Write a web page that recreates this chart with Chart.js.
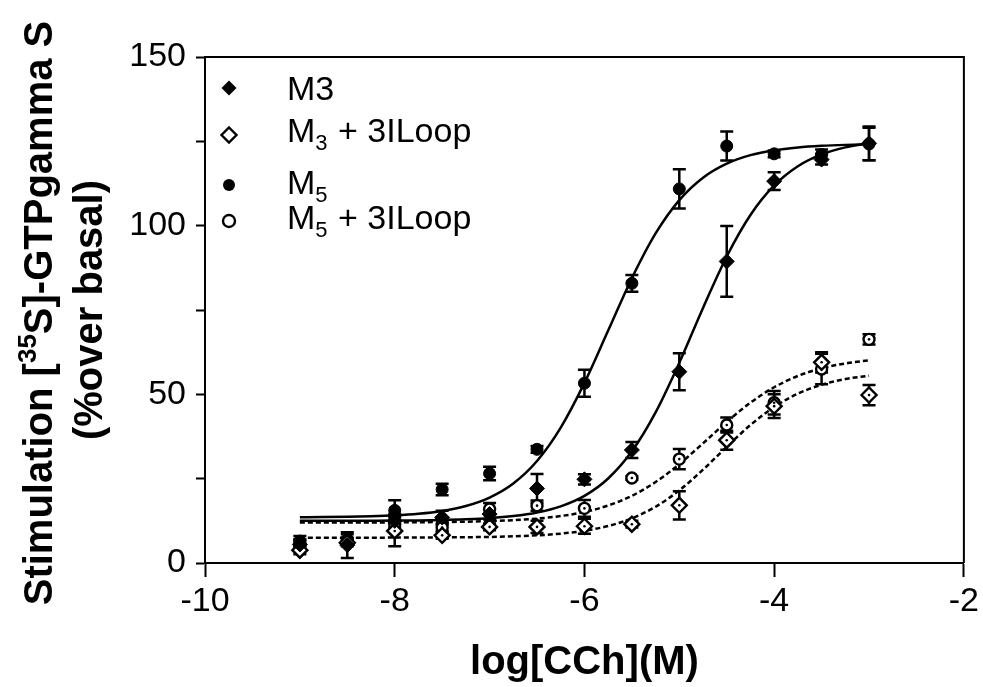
<!DOCTYPE html>
<html><head><meta charset="utf-8">
<script src="https://cdn.jsdelivr.net/npm/chart.js@4/dist/chart.umd.min.js"></script>
<style>html,body{margin:0;padding:0;background:#fff}#wrap{width:983px;height:687px;position:relative}</style>
</head><body><div id="wrap"><canvas id="c" width="983" height="687"></canvas></div>
<script>
// ---- data ----
const logConc = [-9, -8.5, -8, -7.5, -7, -6.5, -6, -5.5, -5, -4.5, -4, -3.5, -3];
const m3 = [5.5, 5.3, 12.5, 13.5, 14.5, 22.1, 24.8, 33.5, 56.7, 89.4, 113.2, 119.6, 124.4];
const m3Err = [1.5, 3.8, 2.0, 2.0, 1.5, 4.3, 1.5, 2.4, 5.5, 10.5, 2.6, 1.5, 5.0];
const m3Loop = [3.8, 6.0, 9.5, 8.2, 10.7, 10.7, 10.9, 11.5, 17.1, 36.4, 46.5, 59.5, 49.8];
const m3LoopErr = [1.2, 1.0, 4.5, 1.0, 1.0, 1.8, 2.2, 1.0, 4.2, 2.8, 3.5, 3.0, 3.0];
const m5 = [6.5, 7.0, 15.6, 21.8, 26.5, 33.7, 53.3, 82.9, 110.9, 123.6, 121.3, 121.1, 124.2];
const m5Err = [1.5, 1.5, 3.0, 1.7, 2.0, 1.0, 4.0, 2.5, 5.8, 4.3, 1.0, 1.5, 4.8];
const m5Loop = [6.0, 6.5, 11.5, 10.5, 16.0, 17.0, 16.2, 25.2, 30.8, 40.9, 47.5, 57.5, 66.3];
const m5LoopErr = [1.0, 1.0, 2.0, 1.0, 1.8, 1.5, 2.5, 0.5, 3.0, 2.2, 3.5, 4.5, 1.5];

// fitted curves
const fitX = [-9, -8.75, -8.5, -8.25, -8, -7.75, -7.5, -7.25, -7, -6.75, -6.5, -6.25, -6, -5.75, -5.5, -5.25, -5, -4.75, -4.5, -4.25, -4, -3.75, -3.5, -3.25, -3];
const m5Fit = [13.56, 13.61, 13.70, 13.85, 14.12, 14.60, 15.44, 16.90, 19.40, 23.57, 30.23, 40.13, 53.39, 68.90, 84.42, 97.69, 107.57, 114.23, 118.40, 120.90, 122.36, 123.20, 123.68, 123.95, 124.10];
const m3Fit = [12.5, 12.5, 12.52, 12.54, 12.57, 12.63, 12.74, 12.94, 13.28, 13.9, 14.96, 16.8, 19.9, 25.05, 33.1, 44.65, 59.36, 75.62, 90.86, 103.15, 111.91, 117.63, 121.13, 123.21, 124.42];
const m5LoopFit = [12.01, 12.01, 12.02, 12.03, 12.05, 12.09, 12.15, 12.25, 12.42, 12.70, 13.16, 13.92, 15.13, 17.05, 19.92, 24.00, 29.30, 35.47, 41.81, 47.52, 52.10, 55.44, 57.70, 59.16, 60.08];
const m3LoopFit = [7.50, 7.50, 7.51, 7.51, 7.53, 7.54, 7.58, 7.64, 7.73, 7.91, 8.20, 8.70, 9.56, 10.97, 13.23, 16.68, 21.53, 27.66, 34.44, 40.90, 46.25, 50.19, 52.84, 54.52, 55.54];

const seriesNames = ["M3", "M\u2083 + 3ILoop", "M\u2085", "M\u2085 + 3ILoop"];
const yTitleMain = ["Stimulation [", "35", "S]-GTPgamma S"];
const yTitleSub = "(%over basal)";
const xTitle = "log[CCh](M)";
const xMin = -10, xMax = -2, xStep = 2;
const yMin = 0, yMax = 150, yStep = 25, yLabelStep = 50;

// ---- build ----
const FONT = "'Liberation Sans', Arial, Helvetica, sans-serif";
const pts = (ys) => logConc.map((x, i) => ({x, y: ys[i]}));
const fit = (ys) => fitX.map((x, i) => ({x, y: ys[i]}));

const markerSets = [
  {label: seriesNames[0], data: pts(m3), errors: m3Err, pointStyle: 'rectRot', pointRadius: 7.5, backgroundColor: '#000', borderColor: '#000', borderWidth: 1, open: false},
  {label: seriesNames[1], data: pts(m3Loop), errors: m3LoopErr, pointStyle: 'rectRot', pointRadius: 7.5, backgroundColor: '#fff', borderColor: '#000', borderWidth: 2.4, open: true},
  {label: seriesNames[2], data: pts(m5), errors: m5Err, pointStyle: 'circle', pointRadius: 6, backgroundColor: '#000', borderColor: '#000', borderWidth: 1, open: false},
  {label: seriesNames[3], data: pts(m5Loop), errors: m5LoopErr, pointStyle: 'circle', pointRadius: 5.5, backgroundColor: '#fff', borderColor: '#000', borderWidth: 2.4, open: true}
].map(d => Object.assign(d, {showLine: false, pointHoverRadius: d.pointRadius}));

const lineSets = [
  {data: fit(m3Fit), borderDash: []},
  {data: fit(m3LoopFit), borderDash: [5, 3]},
  {data: fit(m5Fit), borderDash: []},
  {data: fit(m5LoopFit), borderDash: [5, 3]}
].map(d => Object.assign(d, {label: '', showLine: true, pointRadius: 0, pointHoverRadius: 0, borderColor: '#000', borderWidth: 2.5, cubicInterpolationMode: 'monotone', fill: false}));

function drawMarker(ctx, style, r, x, y, open) {
  ctx.save();
  ctx.beginPath();
  if (style === 'circle') ctx.arc(x, y, r, 0, Math.PI * 2);
  else { ctx.moveTo(x, y - r); ctx.lineTo(x + r, y); ctx.lineTo(x, y + r); ctx.lineTo(x - r, y); ctx.closePath(); }
  ctx.fillStyle = open ? '#fff' : '#000';
  ctx.fill();
  ctx.lineWidth = 2.4; ctx.strokeStyle = '#000';
  if (open) ctx.stroke();
  ctx.restore();
}

function drawSubText(ctx, text, x, y, size) {
  const subMap = {'\u2083': '3', '\u2085': '5'};
  let cx = x;
  for (const ch of text) {
    if (subMap[ch]) {
      ctx.font = `${Math.round(size * 0.66)}px ${FONT}`;
      ctx.fillText(subMap[ch], cx, y + 8);
      cx += ctx.measureText(subMap[ch]).width + 1;
    } else {
      ctx.font = `${size}px ${FONT}`;
      ctx.fillText(ch, cx, y);
      cx += ctx.measureText(ch).width;
    }
  }
}

const decor = {
  id: 'decor',
  beforeDatasetsDraw(chart) {
    const {ctx, chartArea: a, scales: {x, y}} = chart;
    ctx.save();
    ctx.strokeStyle = '#000'; ctx.lineWidth = 2;
    ctx.beginPath();
    ctx.moveTo(a.left, a.top); ctx.lineTo(a.right, a.top); ctx.lineTo(a.right, a.bottom);
    ctx.stroke();
    // error bars
    ctx.lineWidth = 2.5;
    chart.data.datasets.forEach(ds => {
      if (!ds.errors) return;
      ds.data.forEach((p, i) => {
        const e = ds.errors[i];
        const px = x.getPixelForValue(p.x);
        const y1 = y.getPixelForValue(p.y + e), y2 = y.getPixelForValue(Math.max(0, p.y - e));
        ctx.beginPath();
        ctx.moveTo(px, y1); ctx.lineTo(px, y2);
        ctx.moveTo(px - 6.5, y1); ctx.lineTo(px + 6.5, y1);
        ctx.moveTo(px - 6.5, y2); ctx.lineTo(px + 6.5, y2);
        ctx.stroke();
      });
    });
    ctx.restore();
  },
  afterDatasetsDraw(chart) {
    const {ctx, scales: {x, y}} = chart;
    ctx.save(); ctx.fillStyle = '#000';
    chart.data.datasets.forEach(ds => {
      if (!ds.open) return;
      ds.data.forEach(p => {
        ctx.beginPath();
        ctx.arc(x.getPixelForValue(p.x), y.getPixelForValue(p.y), 1.3, 0, Math.PI * 2);
        ctx.fill();
      });
    });
    ctx.restore();
  },
  afterDraw(chart) {
    const {ctx, chartArea: a} = chart;
    ctx.save();
    ctx.fillStyle = '#000';
    ctx.textBaseline = 'alphabetic';
    ctx.textAlign = 'left';
    // legend
    const rows = [{my: 88, ty: 100}, {my: 135, ty: 142}, {my: 185, ty: 194}, {my: 221, ty: 229}];
    markerSets.forEach((ds, i) => {
      const r = ds.pointStyle === 'circle' ? 6 : 7.5;
      drawMarker(ctx, ds.pointStyle, r, a.left + 24, rows[i].my, ds.open);
      ctx.fillStyle = '#000';
      drawSubText(ctx, ds.label, a.left + 82, rows[i].ty, 34);
    });
    // x title
    ctx.font = `bold 40px ${FONT}`;
    ctx.textAlign = 'center';
    ctx.fillText(xTitle, (a.left + a.right) / 2, 674);
    // y title
    const cy = (a.top + a.bottom) / 2 + 3;
    ctx.save();
    ctx.translate(52, cy);
    ctx.rotate(-Math.PI / 2);
    ctx.textAlign = 'left';
    const sizes = [40, 26, 40];
    let total = 0;
    const widths = yTitleMain.map((t, i) => { ctx.font = `bold ${sizes[i]}px ${FONT}`; const w = ctx.measureText(t).width; total += w; return w; });
    let sx = -total / 2;
    yTitleMain.forEach((t, i) => {
      ctx.font = `bold ${sizes[i]}px ${FONT}`;
      ctx.fillText(t, sx, i === 1 ? -16 : 0);
      sx += widths[i];
    });
    ctx.restore();
    ctx.save();
    ctx.translate(102, cy - 3);
    ctx.rotate(-Math.PI / 2);
    ctx.textAlign = 'center';
    ctx.font = `bold 40px ${FONT}`;
    ctx.fillText(yTitleSub, 0, 0);
    ctx.restore();
    ctx.restore();
  }
};

new Chart(document.getElementById('c'), {
  type: 'scatter',
  data: {datasets: [...markerSets, ...lineSets]},
  options: {
    responsive: false,
    devicePixelRatio: 1,
    animation: false,
    layout: {padding: {left: 0, right: 19, top: 57, bottom: 0}},
    plugins: {legend: {display: false}, tooltip: {enabled: false}},
    scales: {
      x: {
        type: 'linear', min: xMin, max: xMax,
        ticks: {stepSize: xStep, color: '#000', font: {family: FONT, size: 34}, padding: 4, maxRotation: 0, autoSkip: false},
        grid: {drawOnChartArea: false, drawTicks: true, tickLength: 14, tickWidth: 2, tickColor: '#000'},
        border: {display: true, width: 2, color: '#000'},
        afterFit(s) { s.height = 124; }
      },
      y: {
        type: 'linear', min: yMin, max: yMax,
        ticks: {stepSize: yStep, color: '#000', font: {family: FONT, size: 34}, padding: 10,
          callback: v => (v % yLabelStep === 0 ? String(v) : '')},
        grid: {drawOnChartArea: false, drawTicks: true, tickLength: 9, tickWidth: 2, tickColor: '#000'},
        border: {display: true, width: 2, color: '#000'},
        afterFit(s) { s.width = 205; }
      }
    }
  },
  plugins: [decor]
});
</script>
</body></html>
